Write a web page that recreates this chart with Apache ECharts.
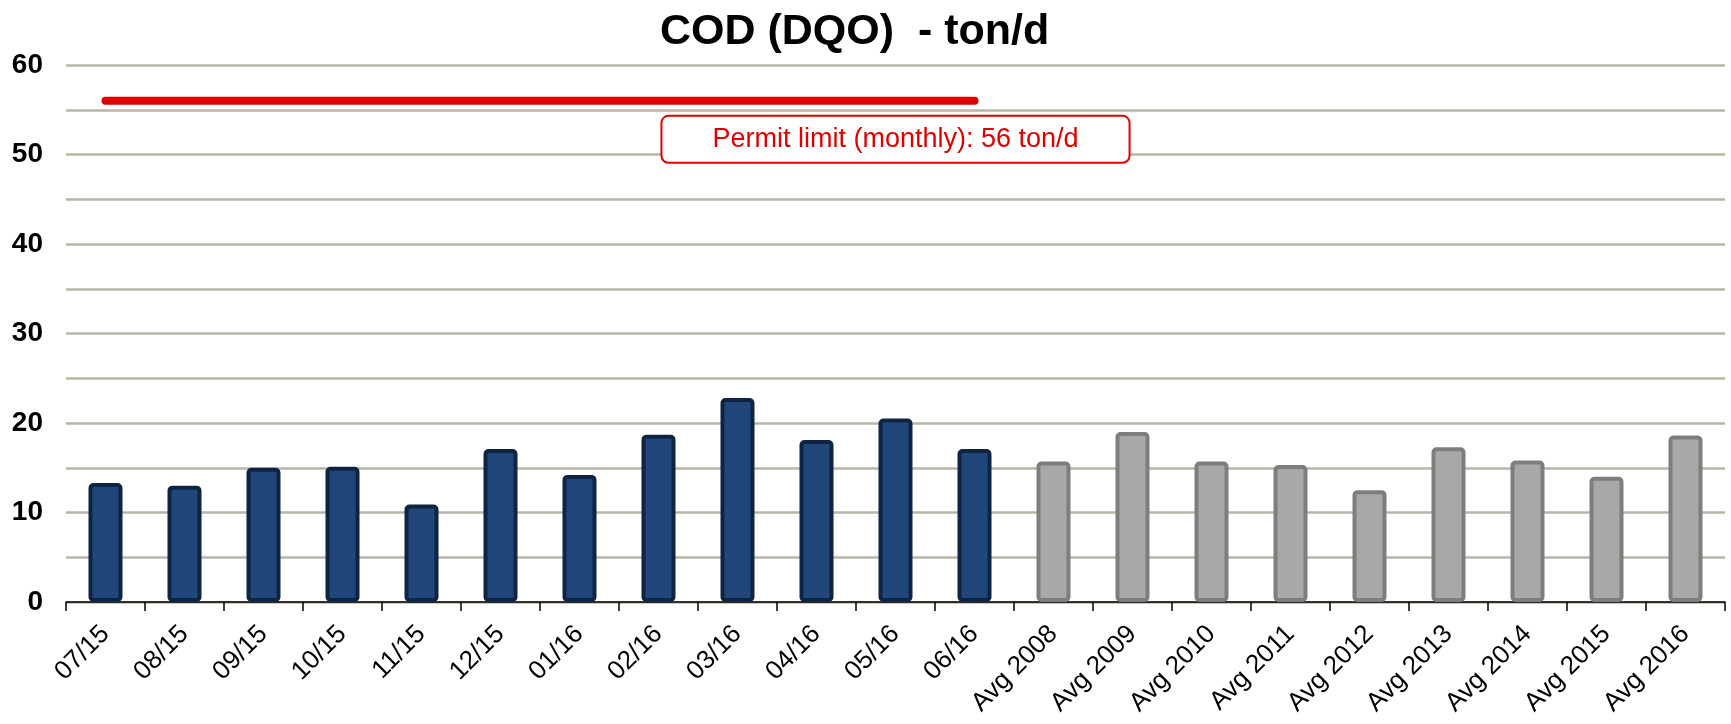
<!DOCTYPE html>
<html>
<head>
<meta charset="utf-8">
<title>COD (DQO) - ton/d</title>
<script src="https://cdn.jsdelivr.net/npm/echarts@6/dist/echarts.min.js"></script>
<style>
  html, body { margin: 0; padding: 0; background: #fff; }
  #main { width: 1731px; height: 724px; }
</style>
</head>
<body>
<div id="main"></div>
<script>
// 月度数据与历年平均
var monthLabels = ['07/15', '08/15', '09/15', '10/15', '11/15', '12/15', '01/16', '02/16', '03/16', '04/16', '05/16', '06/16'];
var monthValues = [13.3, 13.0, 15.0, 15.1, 10.9, 17.1, 14.2, 18.7, 22.8, 18.1, 20.5, 17.1];
var avgLabels = ['Avg 2008', 'Avg 2009', 'Avg 2010', 'Avg 2011', 'Avg 2012', 'Avg 2013', 'Avg 2014', 'Avg 2015', 'Avg 2016'];
var avgValues = [15.7, 19.0, 15.7, 15.3, 12.5, 17.3, 15.8, 14.0, 18.6];
var permitLimit = 56;
var permitText = 'Permit limit (monthly): 56 ton/d';
var yTicks = [0, 10, 20, 30, 40, 50, 60];

var categories = monthLabels.concat(avgLabels);
var monthSeries = monthValues.concat(avgLabels.map(function () { return null; }));
var avgSeries = monthLabels.map(function () { return null; }).concat(avgValues);
var limitSeries = monthLabels.map(function () { return permitLimit; }).concat(avgLabels.map(function () { return null; }));

var myChart = echarts.init(document.getElementById('main'));
myChart.setOption({
    animation: false,
    title: {
        text: 'COD (DQO)  - ton/d',
        left: 655,
        top: 6,
        textStyle: { fontFamily: 'Liberation Sans', fontWeight: 'bold', fontSize: 43, color: '#000' }
    },
    grid: { left: 66, right: 6, top: 65, bottom: 122 },
    xAxis: {
        type: 'category',
        data: categories,
        boundaryGap: true,
        axisLine: { lineStyle: { color: '#000', width: 1.5 } },
        axisTick: { show: true, length: 9, lineStyle: { color: '#000', width: 1.5 } },
        axisLabel: {
            interval: 0,
            rotate: 45,
            margin: 28,
            fontFamily: 'Liberation Sans',
            fontSize: 26,
            color: '#000'
        }
    },
    yAxis: {
        type: 'value',
        min: 0,
        max: 60,
        interval: 5,
        axisLine: { show: false },
        axisTick: { show: false },
        axisLabel: {
            margin: 23,
            fontFamily: 'Liberation Sans',
            fontWeight: 'bold',
            fontSize: 28,
            color: '#000',
            formatter: function (v) { return yTicks.indexOf(v) >= 0 ? String(v) : ''; }
        },
        splitLine: { lineStyle: { color: '#B8B6A9', width: 2.5 } }
    },
    series: [
        {
            name: 'monthly',
            type: 'bar',
            data: monthSeries,
            barWidth: 34,
            barGap: '-100%',
            itemStyle: { color: '#21477A', borderColor: '#0F2442', borderWidth: 4, borderRadius: 3 }
        },
        {
            name: 'average',
            type: 'bar',
            data: avgSeries,
            barWidth: 34,
            barGap: '-100%',
            itemStyle: { color: '#A8A8A8', borderColor: '#7E7E7E', borderWidth: 4, borderRadius: 3 }
        },
        {
            name: 'limit',
            type: 'line',
            data: limitSeries,
            showSymbol: false,
            symbol: 'none',
            lineStyle: { color: '#DD0000', width: 8, cap: 'round' },
            z: 5,
            markPoint: {
                symbol: 'rect',
                symbolSize: 0,
                data: [{ coord: ['05/16', 51.7] }],
                label: {
                    show: true,
                    position: 'inside',
                    formatter: permitText,
                    fontFamily: 'Liberation Sans',
                    fontSize: 27,
                    color: '#E00000',
                    backgroundColor: '#fff',
                    borderColor: '#E00000',
                    borderWidth: 2,
                    borderRadius: 6,
                    padding: [9, 50]
                }
            }
        }
    ]
});
</script>
</body>
</html>
